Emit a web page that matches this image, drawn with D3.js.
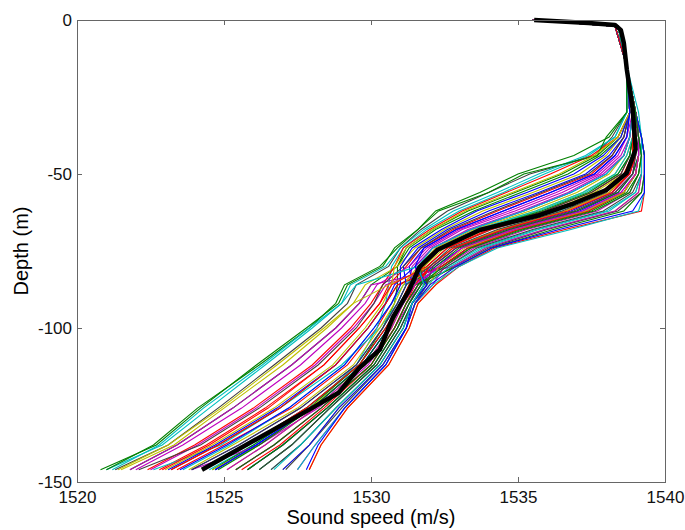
<!DOCTYPE html>
<html>
<head>
<meta charset="utf-8">
<script src="https://cdn.jsdelivr.net/npm/d3@7"></script>
<style>
  body { margin: 0; background: #fff; }
  svg { display: block; }
</style>
</head>
<body>
<main></main>
<script>
// sample depths (m) shared by every profile
const depths = [0, -2, -15, -30, -38, -44, -50, -56, -62, -68, -74, -80, -86, -92, -100, -112, -126, -138, -146];

const profiles = [
  [1535.6,1538.4,1538.7,1539.0,1539.1,1539.1,1539.0,1538.6,1537.3,1535.0,1533.3,1532.4,1531.4,1531.1,1530.6,1529.7,1528.0,1526.1,1524.7],
  [1535.5,1538.3,1538.7,1538.8,1538.4,1537.7,1536.5,1534.9,1533.3,1532.1,1531.2,1530.9,1530.0,1529.6,1528.8,1527.3,1525.3,1523.4,1521.8],
  [1535.6,1538.4,1538.7,1538.9,1538.9,1538.8,1538.5,1537.5,1535.9,1533.8,1532.4,1531.8,1531.0,1530.7,1530.2,1529.2,1527.3,1525.0,1523.4],
  [1535.5,1538.3,1538.7,1538.7,1538.3,1537.4,1535.9,1534.5,1533.0,1531.9,1531.1,1530.7,1530.6,1530.5,1530.2,1529.5,1527.9,1526.0,1524.5],
  [1535.6,1538.4,1538.7,1538.9,1538.8,1538.5,1537.8,1536.5,1534.9,1533.1,1532.0,1531.4,1531.3,1531.0,1530.5,1529.6,1527.8,1525.8,1524.3],
  [1535.6,1538.4,1538.7,1539.0,1539.2,1539.2,1539.2,1539.1,1538.3,1535.9,1533.9,1532.8,1532.2,1531.6,1531.3,1530.6,1529.2,1528.3,1527.9],
  [1535.6,1538.4,1538.7,1538.7,1538.2,1537.6,1535.4,1534.0,1532.6,1531.7,1531.0,1530.6,1529.5,1529.2,1528.3,1526.7,1524.8,1523.1,1521.3],
  [1535.6,1538.4,1538.7,1539.0,1539.0,1539.0,1538.8,1538.2,1536.8,1534.5,1532.9,1532.1,1531.4,1531.1,1530.6,1529.7,1528.0,1526.1,1524.7],
  [1535.5,1538.3,1538.7,1538.8,1538.5,1537.8,1536.7,1535.1,1533.5,1532.2,1531.3,1530.9,1530.9,1530.8,1530.4,1529.6,1527.9,1526.0,1524.6],
  [1535.5,1538.3,1538.7,1538.8,1538.6,1538.2,1537.5,1535.9,1534.3,1532.8,1531.7,1531.2,1530.6,1530.3,1529.6,1528.4,1526.4,1524.4,1522.8],
  [1535.5,1538.3,1538.7,1538.9,1538.9,1538.8,1538.4,1537.3,1535.7,1533.7,1532.3,1531.7,1531.2,1530.9,1530.3,1529.0,1526.9,1524.9,1522.6],
  [1535.5,1538.3,1538.7,1539.0,1539.1,1539.2,1539.1,1538.8,1537.7,1535.3,1533.5,1532.5,1532.1,1531.5,1531.2,1530.5,1529.1,1528.1,1527.5],
  [1535.5,1538.3,1538.7,1538.9,1538.8,1538.6,1538.1,1537.0,1535.4,1533.5,1532.2,1531.6,1531.3,1531.0,1530.7,1529.8,1527.9,1526.2,1524.6],
  [1535.6,1538.4,1538.7,1539.0,1539.1,1539.1,1539.0,1538.6,1537.4,1535.0,1533.3,1532.4,1530.9,1530.5,1529.9,1528.8,1526.9,1524.8,1523.2],
  [1535.5,1538.3,1538.7,1539.0,1539.1,1539.1,1538.9,1538.4,1537.1,1534.8,1533.1,1532.2,1531.7,1531.3,1530.9,1530.1,1528.5,1527.0,1525.8],
  [1535.5,1538.3,1538.7,1538.7,1538.1,1536.9,1535.0,1533.7,1532.2,1531.6,1530.8,1530.4,1529.2,1528.9,1527.8,1526.1,1524.2,1522.7,1520.8],
  [1535.5,1538.3,1538.7,1539.0,1539.2,1539.3,1539.3,1539.3,1539.2,1536.6,1534.2,1533.0,1532.2,1531.6,1531.3,1530.6,1529.2,1528.3,1527.9],
  [1535.5,1538.3,1538.7,1539.0,1539.0,1538.9,1538.7,1537.9,1536.4,1534.1,1532.6,1531.9,1531.8,1531.4,1531.0,1530.2,1528.6,1527.3,1526.2],
  [1535.6,1538.4,1538.7,1539.0,1539.0,1539.0,1538.9,1538.3,1537.0,1534.7,1532.9,1532.1,1530.5,1530.1,1529.4,1528.1,1526.1,1524.1,1522.5],
  [1535.5,1538.3,1538.7,1538.8,1538.5,1538.0,1537.1,1535.5,1533.8,1532.5,1531.5,1530.9,1529.8,1529.4,1528.5,1527.0,1525.0,1523.3,1521.5],
  [1535.5,1538.3,1538.7,1538.9,1538.9,1538.8,1538.5,1537.5,1535.9,1533.8,1532.4,1531.8,1531.9,1531.5,1531.2,1530.4,1529.0,1527.9,1527.1],
  [1535.6,1538.4,1538.7,1538.9,1538.8,1538.6,1538.0,1536.8,1535.2,1533.4,1532.1,1531.5,1530.8,1530.5,1529.9,1528.8,1526.8,1524.7,1523.1],
  [1535.5,1538.3,1538.7,1539.0,1539.1,1539.2,1539.1,1538.7,1537.5,1535.1,1533.4,1532.4,1531.8,1531.4,1531.0,1530.2,1528.6,1527.3,1526.2],
  [1535.6,1538.4,1538.7,1538.8,1538.4,1537.5,1536.1,1534.6,1533.1,1532.0,1531.1,1530.8,1530.4,1530.0,1529.3,1528.0,1526.0,1524.0,1522.4],
  [1535.6,1538.4,1538.7,1539.0,1539.1,1539.2,1539.2,1539.0,1538.0,1535.6,1533.7,1532.6,1531.1,1530.7,1530.1,1529.1,1527.2,1525.2,1523.6],
  [1535.6,1538.4,1538.7,1539.0,1539.1,1539.1,1539.0,1538.5,1537.2,1534.8,1533.1,1532.3,1531.6,1531.3,1530.8,1529.9,1528.2,1526.2,1523.9],
  [1535.5,1538.3,1538.7,1538.9,1538.9,1538.9,1538.6,1537.6,1536.1,1533.9,1532.5,1531.8,1531.5,1531.1,1530.7,1529.8,1528.1,1526.4,1525.1],
  [1535.5,1538.3,1538.7,1539.0,1539.2,1539.3,1539.3,1539.2,1538.4,1536.0,1534.0,1532.8,1531.8,1531.4,1531.0,1530.2,1528.6,1527.3,1526.2],
  [1535.6,1538.4,1538.7,1538.8,1538.7,1538.3,1537.6,1536.1,1534.5,1532.9,1531.8,1531.3,1531.4,1531.1,1530.6,1529.7,1528.0,1526.1,1524.7],
  [1535.6,1538.4,1538.7,1539.0,1539.1,1539.1,1538.9,1538.4,1537.0,1534.7,1533.0,1532.2,1531.3,1531.0,1530.5,1529.6,1527.8,1525.8,1524.3],
  [1535.6,1538.4,1538.7,1539.0,1539.1,1539.1,1539.0,1538.6,1537.4,1535.0,1533.3,1532.4,1530.9,1530.5,1529.9,1528.8,1526.9,1524.8,1523.2],
  [1535.5,1538.3,1538.7,1538.7,1538.3,1537.3,1535.7,1534.3,1532.8,1531.8,1531.0,1530.5,1529.3,1529.0,1528.0,1526.4,1524.5,1522.9,1521.0],
  [1535.6,1538.4,1538.7,1539.0,1539.2,1539.2,1539.2,1539.1,1538.3,1535.9,1533.9,1532.8,1530.0,1529.6,1528.8,1527.3,1525.3,1523.4,1521.8],
  [1535.6,1538.4,1538.7,1538.9,1538.9,1538.7,1538.3,1537.2,1535.6,1533.6,1532.3,1531.6,1531.1,1530.8,1530.3,1529.4,1527.5,1525.3,1523.8],
  [1535.6,1538.4,1538.7,1539.0,1539.1,1539.2,1539.2,1538.9,1537.9,1535.5,1533.6,1532.6,1531.7,1531.3,1530.9,1530.1,1528.5,1527.0,1525.8],
  [1535.6,1538.4,1538.7,1538.8,1538.6,1538.1,1537.3,1535.7,1534.0,1532.6,1531.6,1531.1,1531.2,1530.9,1530.4,1529.5,1527.6,1525.5,1523.9],
  [1535.5,1538.3,1538.7,1538.7,1538.0,1537.7,1535.2,1534.0,1532.3,1531.6,1530.9,1530.3,1529.1,1528.8,1527.9,1526.2,1524.1,1522.6,1521.0],
  [1535.5,1538.3,1538.7,1539.0,1539.0,1539.0,1538.8,1538.1,1536.6,1534.4,1532.8,1532.0,1531.6,1531.2,1530.8,1530.0,1528.3,1526.7,1525.4],
  [1535.6,1538.4,1538.7,1539.1,1539.2,1539.3,1539.3,1539.3,1539.1,1536.8,1534.3,1533.0,1532.1,1531.5,1531.2,1530.5,1529.1,1528.1,1527.5],
  [1535.5,1538.3,1538.7,1538.9,1538.8,1538.6,1537.9,1536.7,1535.1,1533.3,1532.1,1531.5,1531.6,1531.2,1530.8,1530.0,1528.3,1526.7,1525.4],
  [1535.5,1538.3,1538.7,1539.0,1539.1,1539.1,1539.0,1538.6,1537.3,1534.9,1533.2,1532.3,1532.0,1531.5,1531.2,1530.4,1528.9,1527.9,1527.0],
  [1535.5,1538.3,1538.7,1538.8,1538.6,1538.2,1537.4,1535.8,1534.2,1532.7,1531.7,1531.1,1530.4,1530.1,1529.5,1528.2,1526.2,1524.2,1522.1],
  [1535.6,1538.4,1538.7,1538.8,1538.5,1537.9,1536.9,1535.3,1533.6,1532.4,1531.4,1531.0,1531.0,1530.7,1530.1,1529.1,1527.2,1525.1,1523.5],
  [1535.6,1538.4,1538.7,1539.0,1539.2,1539.3,1539.3,1539.2,1538.6,1536.2,1534.1,1532.9,1531.5,1531.1,1530.6,1529.7,1528.0,1526.2,1524.8],
  [1535.6,1538.4,1538.7,1539.0,1539.0,1538.9,1538.6,1537.8,1536.2,1534.0,1532.6,1531.9,1531.3,1531.0,1530.5,1529.6,1527.8,1525.8,1524.3],
  [1535.5,1538.3,1538.7,1539.0,1539.2,1539.2,1539.2,1539.0,1538.1,1535.7,1533.8,1532.7,1531.9,1531.4,1531.1,1530.3,1528.8,1527.6,1526.6],
  [1535.5,1538.3,1538.7,1538.9,1538.7,1538.4,1537.7,1536.3,1534.7,1533.0,1531.9,1531.3,1530.2,1529.8,1529.0,1527.6,1525.6,1523.6,1522.0],
  [1535.6,1538.4,1538.7,1538.9,1539.0,1538.9,1538.7,1538.1,1536.6,1534.4,1532.8,1532.0,1530.6,1529.4,1528.4,1526.8,1524.9,1523.1,1521.4],
  [1535.5,1538.3,1538.7,1539.0,1539.1,1539.0,1538.9,1538.3,1536.9,1534.6,1532.9,1532.1,1531.9,1531.4,1531.1,1530.3,1528.8,1527.6,1526.6],
  [1535.6,1538.4,1538.7,1539.0,1539.2,1539.3,1539.3,1539.3,1538.9,1536.4,1534.1,1532.9,1532.0,1531.5,1531.2,1530.4,1528.9,1527.9,1527.0],
  [1535.5,1538.3,1538.7,1538.9,1538.9,1538.8,1538.4,1537.4,1535.8,1533.7,1532.3,1531.7,1531.7,1531.3,1530.9,1530.1,1528.5,1527.0,1525.8],
  [1535.6,1538.4,1538.7,1539.0,1539.0,1539.0,1538.8,1538.2,1536.7,1534.5,1532.8,1532.0,1531.5,1531.2,1530.8,1530.0,1528.4,1526.9,1525.6],
  [1535.5,1538.3,1538.7,1538.9,1538.9,1538.7,1538.3,1537.2,1535.6,1533.6,1532.3,1531.6,1529.5,1529.0,1527.9,1526.3,1524.3,1522.8,1521.2],
  [1535.6,1538.4,1538.7,1539.0,1539.1,1539.1,1539.0,1538.5,1537.2,1534.9,1533.1,1532.3,1531.5,1531.1,1530.7,1529.8,1528.1,1526.4,1525.1],
  [1535.6,1538.4,1538.7,1538.8,1538.4,1537.6,1536.4,1534.8,1533.2,1532.1,1531.2,1530.8,1530.7,1530.4,1529.8,1528.7,1526.7,1524.6,1523.0],
  [1535.5,1538.3,1538.7,1539.0,1539.0,1539.0,1538.7,1538.0,1536.5,1534.3,1532.7,1532.0,1531.2,1530.9,1530.4,1529.5,1527.6,1525.5,1523.9],
  [1535.5,1538.3,1538.7,1538.8,1538.7,1538.3,1537.6,1536.1,1534.5,1532.9,1531.8,1531.5,1531.9,1531.4,1531.2,1530.5,1529.1,1528.2,1527.8],
  [1535.6,1538.4,1538.7,1539.0,1539.1,1539.2,1539.1,1538.8,1537.6,1535.2,1533.4,1532.5,1531.6,1531.2,1530.8,1530.0,1528.3,1526.7,1525.4],
  [1535.5,1538.3,1538.7,1538.9,1538.9,1538.9,1538.6,1537.9,1536.3,1534.1,1532.6,1531.9,1530.7,1530.3,1529.6,1528.4,1526.5,1524.5,1522.9],
  [1535.6,1538.4,1538.7,1538.9,1538.8,1538.6,1538.0,1536.8,1535.2,1533.4,1532.1,1531.6,1531.8,1531.4,1531.1,1530.3,1528.8,1527.6,1526.7]
];

// mean profile (thick black line)
const meanDepth = [0, -1, -1.6, -3.3, -7.5, -16, -29, -42, -49.7, -55.2, -59.5, -63.3, -68.2, -74.7, -80.2, -87.7, -96.4, -107, -113, -121, -126.5, -146];
const meanSpeed = [1535.55, 1537.4, 1538.3, 1538.5, 1538.6, 1538.7, 1538.9, 1539.0, 1538.7, 1538.0, 1536.9, 1535.75, 1533.7, 1532.25, 1531.65, 1531.3, 1530.75, 1530.3, 1529.6, 1528.9, 1527.9, 1524.25];

const xTicks = [1520, 1525, 1530, 1535, 1540];
const yTicks = [0, -50, -100, -150];
const lineColours = ["#0000ff", "#008000", "#ff0000", "#00bfbf", "#bf00bf", "#bfbf00", "#404040"];

const width = 685, height = 530;
const margin = {top: 20, right: 20, bottom: 48, left: 77};

d3.select("main").append("svg").attr("width", width).attr("height", height);
let svg = d3.select("svg");

let x = d3.scaleLinear().domain([1520, 1540]).range([margin.left, width - margin.right]);
let y = d3.scaleLinear().domain([-150, 0]).range([height - margin.bottom, margin.top]);

let line = d3.line()
    .x(d => x(d[0]))
    .y(d => y(d[1]));

svg.append("g")
   .selectAll("path")
   .data(profiles)
   .enter()
   .append("path")
   .attr("d", p => line(p.map((s, i) => [s, depths[i]])))
   .attr("fill", "none")
   .attr("stroke", (d, i) => lineColours[i % lineColours.length])
   .attr("stroke-width", 1.1);

svg.append("path")
   .attr("d", line(meanSpeed.map((s, i) => [s, meanDepth[i]])))
   .attr("fill", "none")
   .attr("stroke", "#000")
   .attr("stroke-width", 4.5)
   .attr("stroke-linejoin", "round");

// axes, ticks pointing inwards on all four sides
let axisFont = "'Liberation Sans', Arial, Helvetica, sans-serif";

svg.append("g")
   .attr("transform", `translate(0,${y(-150)})`)
   .call(d3.axisBottom(x).tickValues(xTicks).tickSize(-5).tickPadding(9).tickFormat(d3.format("d")));
let left = svg.append("g")
   .attr("transform", `translate(${x(1520)},0)`)
   .call(d3.axisLeft(y).tickValues(yTicks).tickSize(-5).tickPadding(5).tickFormat(d3.format("d")));
svg.append("g")
   .attr("transform", `translate(0,${y(0)})`)
   .call(d3.axisTop(x).tickValues(xTicks).tickSize(-5).tickFormat(""));
svg.append("g")
   .attr("transform", `translate(${x(1540)},0)`)
   .call(d3.axisRight(y).tickValues(yTicks).tickSize(-5).tickFormat(""));

svg.selectAll(".domain").remove();
svg.selectAll(".tick line").attr("stroke", "#666");
svg.selectAll(".tick text")
   .attr("font-family", axisFont)
   .attr("font-size", 17)
   .attr("fill", "#111");
// MATLAB style minus sign is a plain hyphen
left.selectAll(".tick text").text(d => String(d));

svg.append("rect")
   .attr("x", x(1520) + 0.5)
   .attr("y", y(0) + 0.5)
   .attr("width", x(1540) - x(1520))
   .attr("height", y(-150) - y(0))
   .attr("fill", "none")
   .attr("stroke", "#666")
   .attr("stroke-width", 1);

svg.append("text")
   .attr("x", (x(1520) + x(1540)) / 2)
   .attr("y", 524)
   .attr("text-anchor", "middle")
   .attr("font-family", axisFont)
   .attr("font-size", 20)
   .text("Sound speed (m/s)");

svg.append("text")
   .attr("transform", `translate(28,${(y(0) + y(-150)) / 2}) rotate(-90)`)
   .attr("text-anchor", "middle")
   .attr("font-family", axisFont)
   .attr("font-size", 20)
   .text("Depth (m)");
</script>
</body>
</html>
